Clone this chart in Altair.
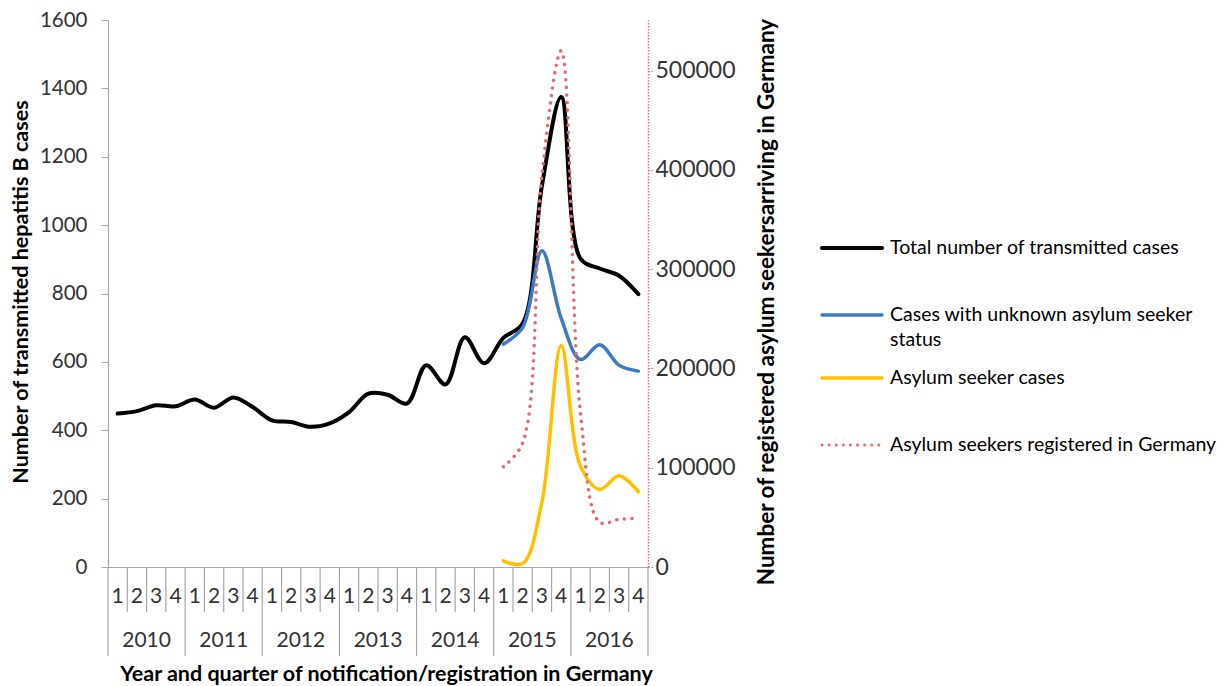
import altair as alt
import pandas as pd

# ---------------- data ----------------
quarters = ["1", "2", "3", "4"] * 7
years = ["2010", "2011", "2012", "2013", "2014", "2015", "2016"]

total_cases = [449, 456, 473, 470, 490, 466, 496, 468, 429, 424, 410, 420, 453, 507,
               504, 478, 590, 534, 672, 596, 670, 712, 1115, 1375, 902, 873, 852, 798]
# series below start at 2015 Q1 (index 20)
start_2015 = 20
unknown_status = [652, 700, 925, 727, 607, 650, 590, 573]
asylum_cases = [18, 10, 190, 648, 295, 227, 267, 220]
registered = [101000, 125000, 395000, 520000, 155000, 45000, 48000, 49000]

legend_labels = [
    ["Total number of transmitted cases"],
    ["Cases with unknown asylum seeker", "status"],
    ["Asylum seeker cases"],
    ["Asylum seekers registered in Germany"],
]

# ---------------- styling ----------------
FONT = "Lato"
W, H = 540, 547
BLACK = "#000000"
BLUE = "#3C7BC4"
YELLOW = "#FFC000"
RED = "#DC6E74"
GRAY = "#A6A6A6"
INTERP = "catmull-rom"

df_total = pd.DataFrame({"idx": range(len(total_cases)), "value": total_cases})
df_unknown = pd.DataFrame({"idx": [start_2015 + i for i in range(len(unknown_status))],
                           "value": unknown_status})
df_asylum = pd.DataFrame({"idx": [start_2015 + i for i in range(len(asylum_cases))],
                          "value": asylum_cases})
df_reg = pd.DataFrame({"idx": [start_2015 + i for i in range(len(registered))],
                       "reg": registered})
df_q = pd.DataFrame({"idx": range(len(quarters)), "q": quarters})
df_y = pd.DataFrame({"yi": range(len(years)), "year": years})
df_b = pd.DataFrame({"b": range(len(quarters) + 1)})

xscale = alt.Scale(domain=[0, 28], nice=False, zero=False)
xaxis = alt.Axis(labels=False, ticks=False, grid=False, domainColor=GRAY, domainWidth=1.2,
                 title="Year and quarter of notification/registration  in Germany",
                 titleFont=FONT, titleFontSize=21.5, titleFontWeight="bold", titleColor="#000000",
                 titlePadding=96, titleX=W / 2 + 8)
yscale = alt.Scale(domain=[0, 1600], nice=False)
yaxis = alt.Axis(orient="left", values=list(range(0, 1601, 200)), grid=False, format="d",
                 domainColor=GRAY, domainWidth=1.2, tickColor=GRAY, tickSize=7,
                 labelFont=FONT, labelFontSize=20.5, labelColor="#333333", labelPadding=14,
                 title="Number of transmitted hepatitis B cases", titleFont=FONT,
                 titleFontSize=21.5, titleFontWeight="bold", titleColor="#000000",
                 titleAngle=270, titleBaseline="middle", titleX=-87, titleY=H / 2 - 2)


def xenc(field):
    return alt.X(field, type="quantitative", scale=xscale, axis=xaxis)


def series(df, color, width):
    return alt.Chart(df).transform_calculate(pos="datum.idx + 0.5").mark_line(
        interpolate=INTERP, color=color, strokeWidth=width, strokeCap="round"
    ).encode(x=xenc("pos"), y=alt.Y("value:Q", scale=yscale, axis=yaxis))


# category separators
sep_short = alt.Chart(df_b).transform_filter("datum.b % 4 != 0").mark_rule(
    color=GRAY, strokeWidth=1.2
).encode(x=xenc("b"), y=alt.value(H), y2=alt.value(H + 45))
sep_long = alt.Chart(df_b).transform_filter("datum.b % 4 == 0").mark_rule(
    color=GRAY, strokeWidth=1.2
).encode(x=xenc("b"), y=alt.value(H), y2=alt.value(H + 89))
q_text = alt.Chart(df_q).transform_calculate(pos="datum.idx + 0.5").mark_text(
    font=FONT, fontSize=21, color="#333333", baseline="middle", align="center"
).encode(x=xenc("pos"), y=alt.value(H + 30), text="q:N")
y_text = alt.Chart(df_y).transform_calculate(pos="datum.yi * 4 + 2").mark_text(
    font=FONT, fontSize=21, color="#333333", baseline="middle", align="center"
).encode(x=xenc("pos"), y=alt.value(H + 74), text="year:N")

left = alt.layer(
    series(df_total, BLACK, 4),
    series(df_unknown, BLUE, 3.5),
    series(df_asylum, YELLOW, 3.5),
    sep_short, sep_long, q_text, y_text,
)

right = alt.Chart(df_reg).transform_calculate(pos="datum.idx + 0.5").mark_line(
    interpolate=INTERP, color=RED, strokeWidth=3.5, strokeCap="round",
    strokeDash=[0.1, 7.5]
).encode(
    x=xenc("pos"),
    y=alt.Y("reg:Q", scale=alt.Scale(domain=[0, 551000], nice=False),
            axis=alt.Axis(orient="right", values=list(range(0, 500001, 100000)), grid=False,
                          domainColor=RED, domainDash=[1.5, 1.5], domainWidth=1.5,
                          tickColor=RED, tickDash=[1.5, 1.5], tickSize=5,
                          labelFont=FONT, labelFontSize=23, labelColor="#333333",
                          labelPadding=2, format="d",
                          title="Number of registered asylum seekersarriving  in Germany",
                          titleFont=FONT, titleFontSize=22.5, titleFontWeight="bold",
                          titleColor="#000000", titleAngle=270, titleBaseline="middle",
                          titleX=118, titleY=H / 2 + 8)),
)

# manual legend
LX1, LX2, LTX = 714, 774, 782
leg_y = [228, 295, 358, 425]
leg_styles = [(BLACK, 4, None), (BLUE, 3.5, None), (YELLOW, 3.5, None), (RED, 3, [0.1, 7])]
one = pd.DataFrame({"k": [0]})
leg_layers = []
for (color, sw, dash), yy, labels in zip(leg_styles, leg_y, legend_labels):
    kw = dict(color=color, strokeWidth=sw, strokeCap="round")
    if dash:
        kw["strokeDash"] = dash
    leg_layers.append(alt.Chart(one).mark_rule(**kw).encode(
        x=alt.value(LX1), x2=alt.value(LX2), y=alt.value(yy)))
    for j, lab in enumerate(labels):
        leg_layers.append(alt.Chart(pd.DataFrame({"t": [lab]})).mark_text(
            font=FONT, fontSize=19.5, color="#000000", align="left", baseline="middle"
        ).encode(x=alt.value(LTX), y=alt.value(yy + 25 * j), text="t:N"))

legend = alt.layer(*leg_layers)

chart = alt.layer(left, right, legend).resolve_scale(y="independent").properties(
    width=W, height=H,
    autosize=alt.AutoSizeParams(type="none"),
    padding={"left": 100, "top": 12, "right": 572, "bottom": 119},
).configure_view(stroke=None)

chart.save("out.html", embed_options={"renderer": "svg", "actions": False})
